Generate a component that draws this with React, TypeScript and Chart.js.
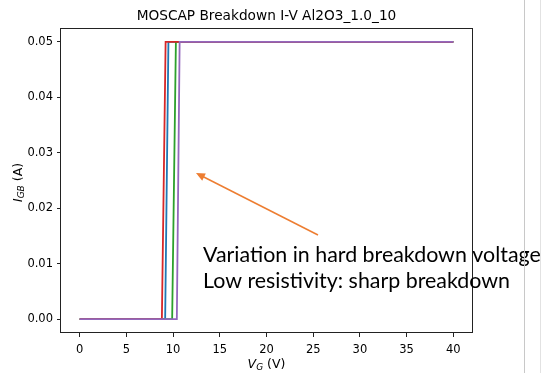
import React, { useEffect, useRef } from "react";
import { Chart, registerables } from "chart.js";

Chart.register(...registerables);

const titleText = "MOSCAP Breakdown I-V Al2O3_1.0_10";
const xTicks = [0, 5, 10, 15, 20, 25, 30, 35, 40];
const yTicks = [0, 0.01, 0.02, 0.03, 0.04, 0.05];
const blueV = [0, 9.15, 9.5, 40];
const blueI = [0, 0, 0.05, 0.05];
const greenV = [0, 9.9, 10.3, 40];
const greenI = [0, 0, 0.05, 0.05];
const redV = [0, 8.8, 9.2, 40];
const redI = [0, 0, 0.05, 0.05];
const purpleV = [0, 10.4, 10.7, 40];
const purpleI = [0, 0, 0.05, 0.05];
const noteLines = ["Variation in hard breakdown voltage", "Low resistivity: sharp breakdown"];

const pts = (xs: number[], ys: number[]) => xs.map((x, i) => ({ x, y: ys[i] }));

const overlay = {
  id: "overlay",
  beforeDraw(chart: any) {
    const ctx = chart.ctx;
    ctx.save();
    ctx.fillStyle = "#fff";
    ctx.fillRect(0, 0, chart.width, chart.height);
    ctx.restore();
  },
  afterDraw(chart: any) {
    const ctx = chart.ctx;
    const a = chart.chartArea;
    ctx.save();
    // frame
    ctx.strokeStyle = "#222";
    ctx.lineWidth = 1;
    ctx.strokeRect(Math.round(a.left) - 0.5, Math.round(a.top) + 0.5, Math.round(a.right - a.left) + 1, Math.round(a.bottom - a.top) - 1);
    // title
    ctx.fillStyle = "#000";
    ctx.font = '13.7px "DejaVu Sans"';
    ctx.textAlign = "center";
    ctx.textBaseline = "alphabetic";
    ctx.fillText(titleText, (a.left + a.right) / 2, 20);

    // mixed label helper
    const drawLabel = (parts: { t: string; f: string; dy: number }[], cx: number, cy: number, rot: number) => {
      ctx.save();
      ctx.translate(cx, cy);
      ctx.rotate(rot);
      let w = 0;
      parts.forEach((p) => {
        ctx.font = p.f;
        w += ctx.measureText(p.t).width;
      });
      let x = -w / 2;
      ctx.textAlign = "left";
      parts.forEach((p) => {
        ctx.font = p.f;
        ctx.fillText(p.t, x, p.dy);
        x += ctx.measureText(p.t).width;
      });
      ctx.restore();
    };
    drawLabel(
      [
        { t: "V", f: 'italic 12.5px "DejaVu Sans"', dy: 0 },
        { t: "G", f: 'italic 9px "DejaVu Sans"', dy: 2 },
        { t: " (V)", f: '12.5px "DejaVu Sans"', dy: 0 },
      ],
      (a.left + a.right) / 2,
      368,
      0
    );
    drawLabel(
      [
        { t: "I", f: 'italic 12.5px "DejaVu Sans"', dy: 0 },
        { t: "GB", f: 'italic 9px "DejaVu Sans"', dy: 2 },
        { t: " (A)", f: '12.5px "DejaVu Sans"', dy: 0 },
      ],
      22,
      (a.top + a.bottom) / 2 + 2,
      -Math.PI / 2
    );

    // arrow
    const x0 = 318, y0 = 235, x1 = 196, y1 = 173;
    ctx.strokeStyle = "#ED7D31";
    ctx.fillStyle = "#ED7D31";
    ctx.lineWidth = 1.5;
    const ang = Math.atan2(y1 - y0, x1 - x0);
    ctx.beginPath();
    ctx.moveTo(x0, y0);
    ctx.lineTo(x1 - Math.cos(ang) * 6, y1 - Math.sin(ang) * 6);
    ctx.stroke();
    ctx.beginPath();
    ctx.moveTo(x1, y1);
    ctx.lineTo(x1 - Math.cos(ang) * 9 + Math.sin(ang) * 4, y1 - Math.sin(ang) * 9 - Math.cos(ang) * 4);
    ctx.lineTo(x1 - Math.cos(ang) * 9 - Math.sin(ang) * 4, y1 - Math.sin(ang) * 9 + Math.cos(ang) * 4);
    ctx.closePath();
    ctx.fill();

    // note text
    ctx.fillStyle = "#000";
    ctx.textAlign = "left";
    let fs = 22;
    ctx.font = `${fs}px Lato`;
    const w0 = ctx.measureText(noteLines[0]).width;
    fs = (fs * 338) / w0;
    ctx.font = `${fs}px Lato`;
    ctx.fillText(noteLines[0], 203, 262);
    ctx.fillText(noteLines[1], 203, 288);

    // slide edge lines
    ctx.lineWidth = 1;
    ctx.strokeStyle = "#c8c8c8";
    ctx.beginPath();
    ctx.moveTo(524.5, 0);
    ctx.lineTo(524.5, chart.height);
    ctx.stroke();
    ctx.strokeStyle = "#e2e2e2";
    ctx.beginPath();
    ctx.moveTo(540.5, 0);
    ctx.lineTo(540.5, chart.height);
    ctx.stroke();
    ctx.restore();
  },
};

export default function App() {
  const ref = useRef<HTMLCanvasElement>(null);
  useEffect(() => {
    if (!ref.current) return;
    const mk = (label: string, xs: number[], ys: number[], color: string, order: number) => ({
      label,
      data: pts(xs, ys),
      borderColor: color,
      backgroundColor: color,
      borderWidth: 1.8,
      pointRadius: 0,
      tension: 0,
      fill: false,
      order,
    });
    const chart = new Chart(ref.current, {
      type: "line",
      data: {
        datasets: [
          mk("blue", blueV, blueI, "#1f77b4", 4),
          mk("green", greenV, greenI, "#2ca02c", 3),
          mk("red", redV, redI, "#d62728", 2),
          mk("purple", purpleV, purpleI, "#9467bd", 1),
        ],
      },
      options: {
        animation: false,
        responsive: false,
        devicePixelRatio: 1,
        layout: { padding: { left: 0, top: 28, right: 75, bottom: 0 } },
        plugins: { legend: { display: false }, tooltip: { enabled: false }, title: { display: false } },
        scales: {
          x: {
            type: "linear",
            min: -2,
            max: 42,
            afterBuildTicks: (s: any) => {
              s.ticks = xTicks.map((v) => ({ value: v }));
            },
            afterFit: (s: any) => {
              s.height = 40;
            },
            grid: { drawOnChartArea: false, drawTicks: true, tickLength: 4, color: "#222" },
            border: { display: false },
            ticks: {
              color: "#000",
              font: { family: "DejaVu Sans", size: 11.5 },
              padding: 6,
              maxRotation: 0,
              autoSkip: false,
              callback: (v: any) => String(v),
            },
          },
          y: {
            type: "linear",
            min: -0.0025,
            max: 0.0525,
            afterBuildTicks: (s: any) => {
              s.ticks = yTicks.map((v) => ({ value: v }));
            },
            afterFit: (s: any) => {
              s.width = 61;
            },
            grid: { drawOnChartArea: false, drawTicks: true, tickLength: 4, color: "#222" },
            border: { display: false },
            ticks: {
              color: "#000",
              font: { family: "DejaVu Sans", size: 11.5 },
              padding: 4,
              autoSkip: false,
              callback: (v: any) => Number(v).toFixed(2),
            },
          },
        },
      },
      plugins: [overlay],
    });
    return () => chart.destroy();
  }, []);
  return (
    <div style={{ position: "fixed", left: 0, top: 0, width: 547, height: 373, background: "#fff" }}>
      <canvas ref={ref} width={547} height={373} style={{ display: "block", width: 547, height: 373 }} />
    </div>
  );
}
